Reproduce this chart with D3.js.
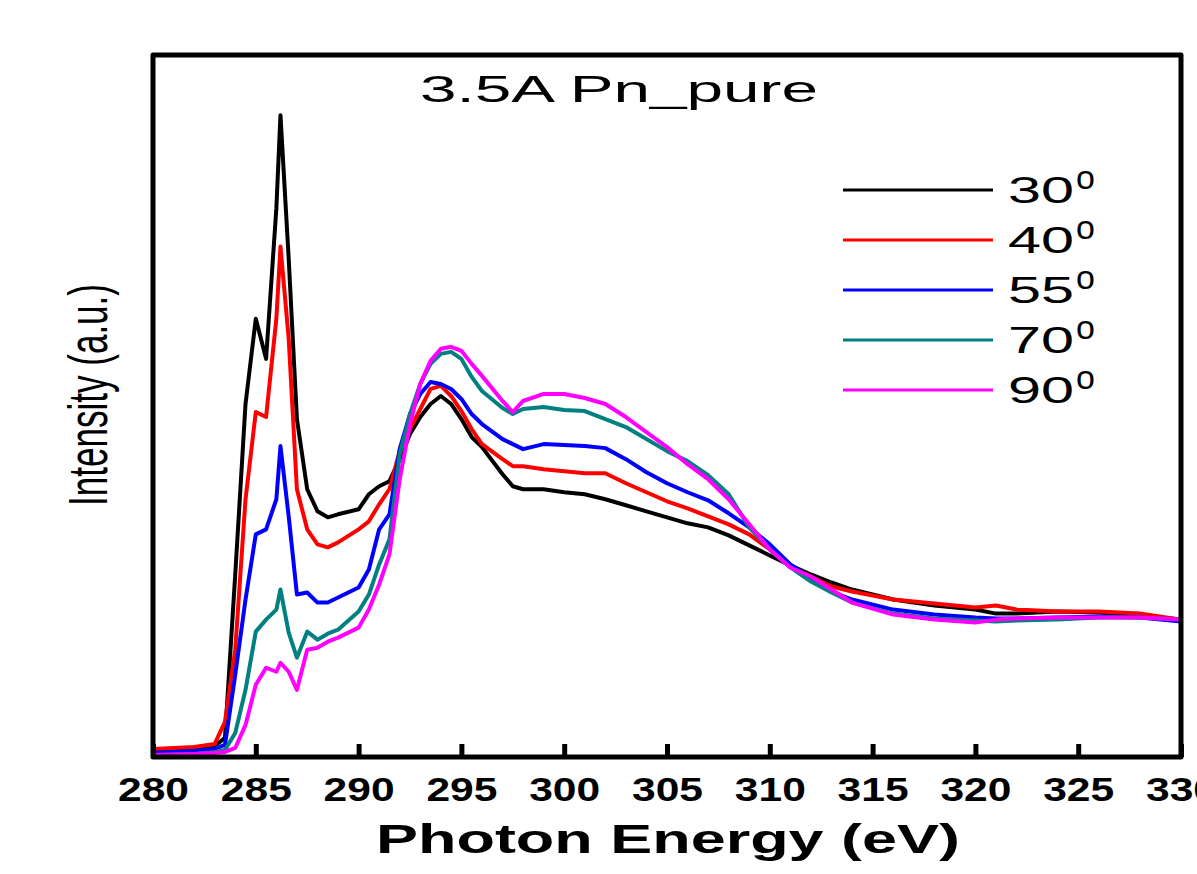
<!DOCTYPE html>
<html>
<head>
<meta charset="utf-8">
<script src="https://cdn.jsdelivr.net/npm/d3@7"></script>
<style>
  html, body { margin: 0; padding: 0; background: #fff; }
  svg { display: block; }
</style>
</head>
<body>
<svg id="chart" width="1197" height="874"></svg>
<script>
'use strict';

// photon energy grid (eV)
var energy = [280, 282, 283, 283.5, 284, 284.5, 285, 285.5, 286, 286.2,
  286.6, 287, 287.5, 288, 288.5, 289, 290, 290.5, 291, 291.5,
  292, 292.5, 293, 293.5, 294, 294.5, 295, 295.5, 296, 297,
  297.5, 298, 299, 300, 301, 302, 303, 304, 305, 306, 307,
  308, 309, 310, 311, 312, 313, 314, 316, 318, 320,
  321, 322, 324, 326, 328, 330];

// intensity (a.u.) per incidence angle
var deg30 = [0.05, 0.08, 0.11, 0.19, 1.82, 3.52, 4.37, 3.97, 5.47, 6.40,
  4.97, 3.37, 2.67, 2.45, 2.39, 2.42, 2.47, 2.62, 2.70, 2.75,
  2.97, 3.22, 3.39, 3.52, 3.60, 3.52, 3.37, 3.19, 3.09, 2.82,
  2.70, 2.67, 2.67, 2.64, 2.62, 2.57, 2.51, 2.45, 2.39, 2.33, 2.29,
  2.21, 2.11, 2.01, 1.91, 1.82, 1.74, 1.67, 1.57, 1.51, 1.47,
  1.43, 1.43, 1.45, 1.44, 1.41, 1.37];

var deg40 = [0.08, 0.10, 0.13, 0.35, 1.07, 2.57, 3.44, 3.39, 4.37, 5.09,
  4.17, 2.67, 2.27, 2.12, 2.09, 2.14, 2.27, 2.35, 2.52, 2.67,
  3.05, 3.27, 3.47, 3.67, 3.70, 3.60, 3.45, 3.27, 3.12, 2.97,
  2.90, 2.90, 2.87, 2.85, 2.83, 2.83, 2.73, 2.64, 2.55, 2.48, 2.40,
  2.32, 2.22, 2.07, 1.90, 1.80, 1.70, 1.65, 1.57, 1.53, 1.49,
  1.51, 1.47, 1.45, 1.45, 1.43, 1.37];

var deg55 = [0.04, 0.06, 0.08, 0.12, 0.82, 1.57, 2.22, 2.27, 2.57, 3.10,
  2.40, 1.62, 1.64, 1.54, 1.54, 1.59, 1.69, 1.87, 2.27, 2.42,
  3.07, 3.42, 3.62, 3.74, 3.72, 3.67, 3.57, 3.42, 3.32, 3.17,
  3.12, 3.07, 3.12, 3.11, 3.10, 3.08, 2.97, 2.84, 2.73, 2.64, 2.56,
  2.43, 2.29, 2.12, 1.92, 1.78, 1.65, 1.57, 1.47, 1.42, 1.39,
  1.38, 1.38, 1.39, 1.40, 1.39, 1.35];

var deg70 = [0.02, 0.03, 0.05, 0.07, 0.24, 0.67, 1.25, 1.37, 1.47, 1.67,
  1.24, 0.99, 1.25, 1.17, 1.23, 1.27, 1.45, 1.62, 1.92, 2.17,
  3.02, 3.42, 3.72, 3.92, 4.02, 4.04, 3.97, 3.79, 3.65, 3.48,
  3.42, 3.47, 3.49, 3.46, 3.45, 3.37, 3.29, 3.17, 3.05, 2.95, 2.81,
  2.62, 2.29, 2.07, 1.89, 1.75, 1.64, 1.54, 1.43, 1.38, 1.36,
  1.35, 1.36, 1.37, 1.39, 1.39, 1.37];

var deg90 = [0.02, 0.03, 0.04, 0.05, 0.09, 0.32, 0.72, 0.89, 0.85, 0.94,
  0.85, 0.67, 1.07, 1.09, 1.15, 1.19, 1.29, 1.47, 1.72, 2.02,
  2.77, 3.32, 3.72, 3.95, 4.07, 4.09, 4.05, 3.92, 3.80, 3.55,
  3.44, 3.55, 3.62, 3.62, 3.58, 3.52, 3.39, 3.24, 3.09, 2.92, 2.77,
  2.57, 2.32, 2.07, 1.89, 1.80, 1.67, 1.54, 1.42, 1.37, 1.34,
  1.37, 1.38, 1.39, 1.39, 1.39, 1.37];

var angleLabels = ['30', '40', '55', '70', '90'];
var xTicks = [280, 285, 290, 295, 300, 305, 310, 315, 320, 325, 330];

var colormap = {
  '30': '#000000',
  '40': '#ff0000',
  '55': '#0000ff',
  '70': '#008080',
  '90': '#ff00ff'
};

function color(name) {
  return colormap[name] || '#ff0000';
}

var series = [deg30, deg40, deg55, deg70, deg90].map(function (vals, i) {
  return {
    key: angleLabels[i],
    values: vals.map(function (v, j) { return { e: energy[j], v: v }; })
  };
});

var plot = { left: 153, right: 1181, top: 55, bottom: 757 };

var x = d3.scaleLinear().domain([280, 330]).range([plot.left, plot.right]);
var y = d3.scaleLinear().domain([0, 7]).range([plot.bottom, plot.top]);

var svg = d3.select('#chart');
var font = 'Arial, "Liberation Sans", sans-serif';

// curves
var line = d3.line()
  .x(function (d) { return x(d.e); })
  .y(function (d) { return y(d.v); });

svg.append('g').attr('class', 'curves')
  .selectAll('path')
  .data(series)
  .enter().append('path')
    .attr('d', function (d) { return line(d.values); })
    .attr('fill', 'none')
    .attr('stroke', function (d) { return color(d.key); })
    .attr('stroke-width', 4)
    .attr('stroke-linejoin', 'round');

// bottom axis, ticks pointing inward
var xAxis = d3.axisBottom(x)
  .tickValues(xTicks)
  .tickSizeInner(-13)
  .tickSizeOuter(0)
  .tickPadding(20)
  .tickFormat(d3.format('d'));

var gx = svg.append('g')
  .attr('transform', 'translate(0,' + plot.bottom + ')')
  .call(xAxis);
gx.select('.domain').remove();
gx.selectAll('.tick line').attr('stroke', '#000').attr('stroke-width', 5);
gx.selectAll('.tick text')
  .attr('fill', '#000')
  .attr('font-family', font)
  .attr('font-weight', 'bold')
  .attr('font-size', 34)
  .attr('textLength', 71)
  .attr('lengthAdjust', 'spacingAndGlyphs');

// frame
svg.append('rect')
  .attr('x', plot.left)
  .attr('y', plot.top)
  .attr('width', plot.right - plot.left)
  .attr('height', plot.bottom - plot.top)
  .attr('fill', 'none')
  .attr('stroke', '#000')
  .attr('stroke-width', 5)
  .attr('stroke-linejoin', 'round');

// titles
svg.append('text')
  .attr('x', 420).attr('y', 102)
  .attr('font-family', font)
  .attr('font-size', 37)
  .attr('textLength', 398)
  .attr('lengthAdjust', 'spacingAndGlyphs')
  .text('3.5A Pn_pure');

svg.append('text')
  .attr('x', 376).attr('y', 853)
  .attr('font-family', font)
  .attr('font-weight', 'bold')
  .attr('font-size', 40)
  .attr('textLength', 584)
  .attr('lengthAdjust', 'spacingAndGlyphs')
  .text('Photon Energy (eV)');

svg.append('text')
  .attr('transform', 'translate(107,506) rotate(-90)')
  .attr('font-family', font)
  .attr('font-size', 56)
  .attr('textLength', 222)
  .attr('lengthAdjust', 'spacingAndGlyphs')
  .text('Intensity (a.u.)');

// legend
var legend = svg.append('g').attr('class', 'legend')
  .selectAll('g')
  .data(series)
  .enter().append('g')
    .attr('transform', function (d, i) { return 'translate(843,' + (190 + i * 50) + ')'; });

legend.append('line')
  .attr('x1', 0).attr('x2', 150)
  .attr('stroke', function (d) { return color(d.key); })
  .attr('stroke-width', 3);

var lt = legend.append('text')
  .attr('x', 165).attr('y', 13)
  .attr('font-family', font)
  .attr('font-size', 36)
  .attr('fill', '#000');
lt.append('tspan')
  .attr('textLength', 66)
  .attr('lengthAdjust', 'spacingAndGlyphs')
  .text(function (d) { return d.key; });
lt.append('tspan')
  .attr('dx', 2).attr('dy', -14)
  .attr('font-size', 34)
  .text('o');
</script>
</body>
</html>
